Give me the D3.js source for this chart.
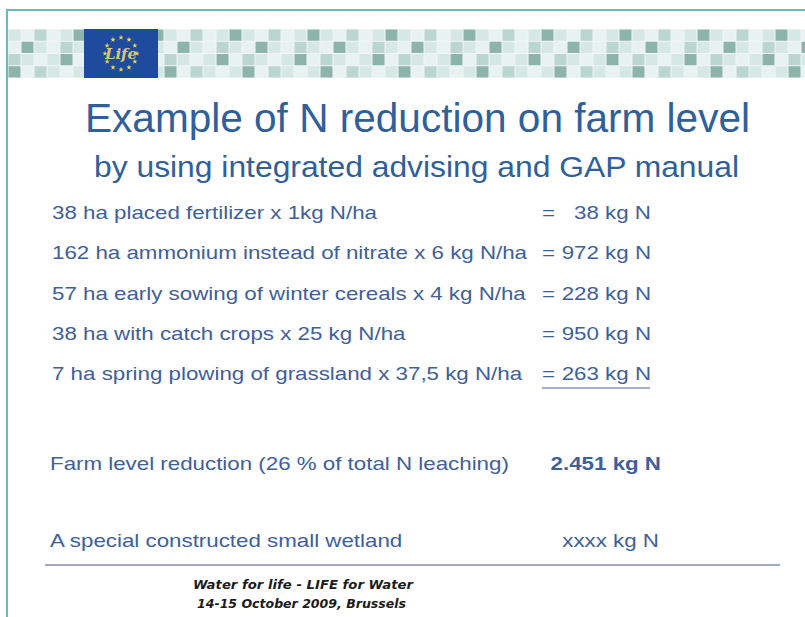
<!DOCTYPE html>
<html>
<head>
<meta charset="utf-8">
<script src="https://cdn.jsdelivr.net/npm/d3@7"></script>
<style>
  body { margin: 0; background: #fff; }
  svg { display: block; }
</style>
</head>
<body>
<svg id="slide" width="805" height="617"></svg>
<script>
// Slide data
var title = "Example of N reduction on farm level";
var subtitle = "by using integrated advising and GAP manual";
var measures = [
  "38 ha placed fertilizer x 1kg N/ha",
  "162 ha ammonium instead of nitrate x 6 kg N/ha",
  "57 ha early sowing of winter cereals x 4 kg N/ha",
  "38 ha with catch crops x 25 kg N/ha",
  "7 ha spring plowing of grassland x 37,5 kg N/ha"
];
var reductions = [38, 972, 228, 950, 263];
var unit = "kg N";
var totalLabel = "Farm level reduction (26 % of total N leaching)";
var wetlandLabel = "A special constructed small wetland";
var wetlandValue = "xxxx";
var footer = ["Water for life - LIFE for Water", "14-15 October 2009, Brussels"];

// header mosaic, one string of tile shades per row
var mosaicRows = ["bacabd", "adbacb", "cbabda", "dacbab"];
var tileColor = {a: "#e8f2f0", b: "#d5e8e4", c: "#b9d6cf", d: "#8db4a9"};

var svg = d3.select("#slide"),
    W = +svg.attr("width"),
    H = +svg.attr("height");

var titleColor = "#30609a",
    bodyColor = "#40609a",
    bodyFont = "'Liberation Sans', Arial, sans-serif",
    stretch = 1.2;

// fit a text element between x0 and x1
function fit(t, x0, x1) {
  t.attr("x", x0).attr("textLength", x1 - x0).attr("lengthAdjust", "spacingAndGlyphs");
  return t;
}
// widen a text element by the body stretch, anchored at its left or right edge
function widen(t, x, anchor) {
  var w = t.node().getComputedTextLength() * stretch;
  t.attr("x", anchor === "end" ? x - w : x).attr("textLength", w).attr("lengthAdjust", "spacingAndGlyphs");
  return w;
}

// frame
svg.append("path")
    .attr("d", "M7," + H + "V10H" + W)
    .attr("fill", "none")
    .attr("stroke", "#6cbdb8")
    .attr("stroke-width", 2);

// mosaic band
var tileW = 13, tileH = 12.25, bandX = 8, bandY = 29;
var cols = d3.range(Math.ceil((W - bandX) / tileW));
svg.append("rect")
    .attr("x", bandX).attr("y", bandY)
    .attr("width", W - bandX).attr("height", tileH * 4)
    .attr("fill", "#f0f7f5");
mosaicRows.forEach(function(row, r) {
  svg.append("g").selectAll("rect")
    .data(cols)
    .join("rect")
      .attr("x", function(c) { return bandX + c * tileW + 0.5; })
      .attr("y", bandY + r * tileH + 0.5)
      .attr("width", tileW - 1)
      .attr("height", tileH - 1)
      .attr("fill", function(c) { return tileColor[row[c % row.length]]; });
});

// LIFE logo
var logo = svg.append("g").attr("transform", "translate(84,29)");
logo.append("rect").attr("width", 74).attr("height", 49).attr("fill", "#1e4b9e");
logo.selectAll("path")
  .data(d3.range(12))
  .join("path")
    .attr("d", d3.symbol(d3.symbolStar).size(9))
    .attr("transform", function(i) {
      var a = i * Math.PI / 6;
      return "translate(" + (37 + 16 * Math.sin(a)) + "," + (24.5 - 16 * Math.cos(a)) + ")";
    })
    .attr("fill", "#f1d84b");
logo.append("text")
    .attr("x", 37).attr("y", 30)
    .attr("text-anchor", "middle")
    .style("font", "italic bold 15px 'DejaVu Serif', serif")
    .attr("fill", "#d9c873")
    .text("Life");

// titles
fit(svg.append("text")
    .attr("y", 132)
    .style("font", "40px " + bodyFont)
    .attr("fill", titleColor)
    .text(title), 85, 750);
fit(svg.append("text")
    .attr("y", 177)
    .style("font", "30px " + bodyFont)
    .attr("fill", titleColor)
    .text(subtitle), 94, 739);

// measure rows
var y = d3.scaleLinear().domain([0, measures.length - 1]).range([219, 380]);
var eqX = 542, valEnd = 651;

var rows = svg.append("g")
    .style("font", "18.6px " + bodyFont)
    .attr("fill", bodyColor);

measures.forEach(function(m, i) {
  var left = rows.append("text").attr("y", y(i)).text(m);
  widen(left, 52, "start");
  var eq = rows.append("text").attr("y", y(i)).text("=");
  widen(eq, eqX, "start");
  var v = rows.append("text").attr("y", y(i)).text(reductions[i] + " " + unit);
  widen(v, valEnd, "end");
});
rows.append("line")
    .attr("x1", eqX).attr("x2", valEnd - 1)
    .attr("y1", y(measures.length - 1) + 8).attr("y2", y(measures.length - 1) + 8)
    .attr("stroke", bodyColor)
    .attr("stroke-width", 1.2);

// totals
var fmt = d3.formatLocale({decimal: ",", thousands: ".", grouping: [3], currency: ["", ""]}).format(",d");
var tot = svg.append("g")
    .style("font", "18.6px " + bodyFont)
    .attr("fill", bodyColor);
widen(tot.append("text").attr("y", 470).text(totalLabel), 50, "start");
widen(tot.append("text").attr("y", 470).style("font-weight", "bold")
    .text(fmt(d3.sum(reductions)) + " " + unit), 661, "end");
widen(tot.append("text").attr("y", 547).text(wetlandLabel), 50, "start");
widen(tot.append("text").attr("y", 547).text(wetlandValue + " " + unit), 659, "end");

// footer rule and text
svg.append("line")
    .attr("x1", 45).attr("x2", 780)
    .attr("y1", 565).attr("y2", 565)
    .attr("stroke", "#a4a7c6")
    .attr("stroke-width", 2);
var foot = svg.append("g")
    .style("font", "italic bold 13px 'DejaVu Sans Condensed', 'DejaVu Sans', sans-serif")
    .attr("fill", "#1c1c1c");
fit(foot.append("text").attr("y", 589).text(footer[0]), 193, 413);
fit(foot.append("text").attr("y", 608).text(footer[1]), 197, 406);
</script>
</body>
</html>
